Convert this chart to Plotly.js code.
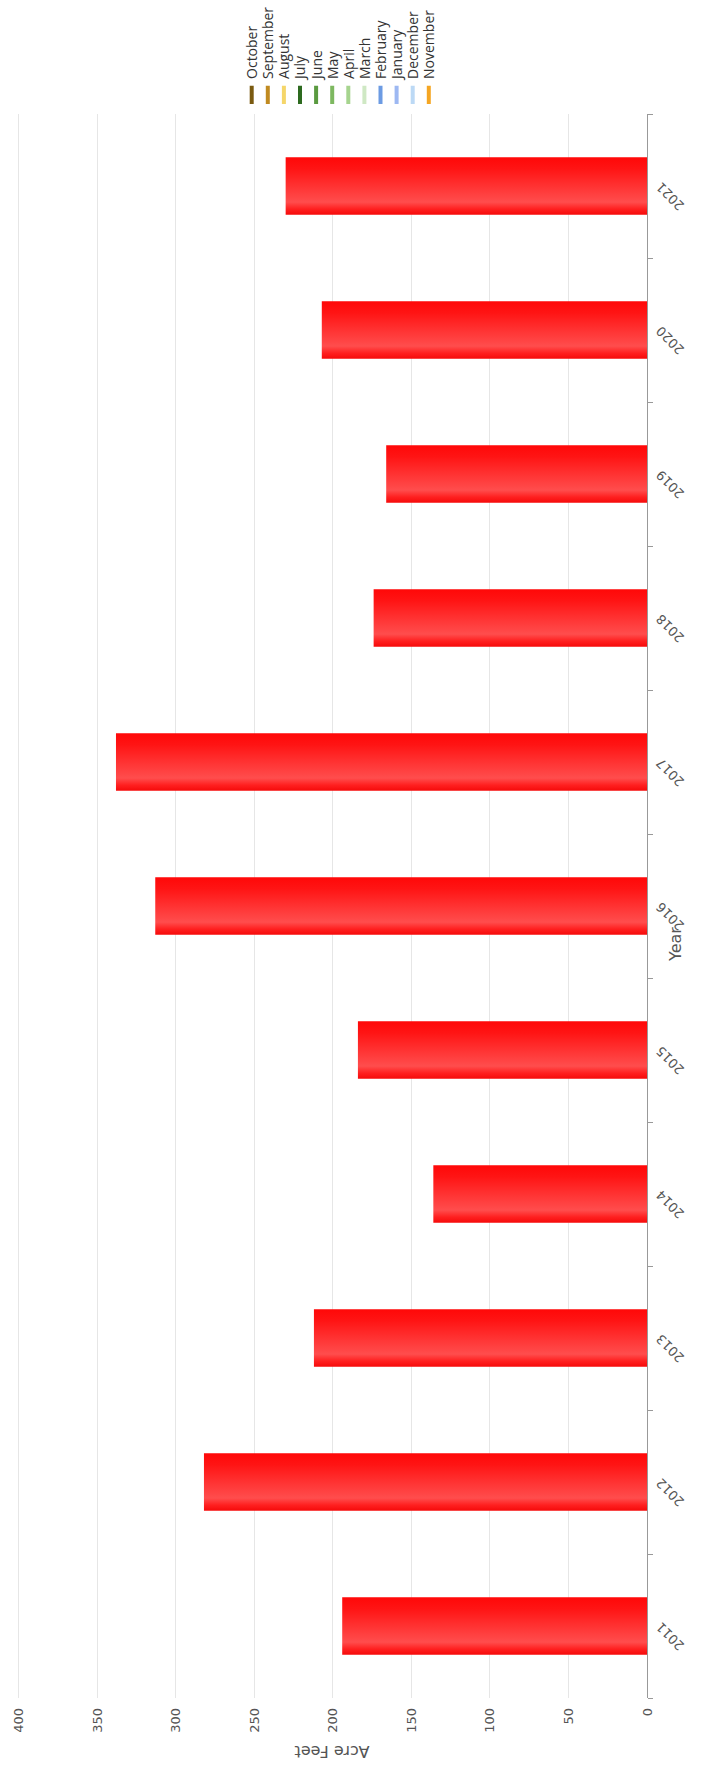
<!DOCTYPE html>
<html>
<head>
<meta charset="utf-8">
<script src="https://cdn.plot.ly/plotly-3.0.1.min.js"></script>
<style>
html, body { margin: 0; padding: 0; width: 718px; height: 1773px; overflow: hidden; background: #fff; }
#wrap { position: absolute; left: 0; top: 0; width: 1773px; height: 718px;
        transform-origin: 0 0; transform: translate(0px, 1773px) rotate(-90deg); }
#chart { width: 1773px; height: 718px; }
</style>
</head>
<body>
<div id="wrap"><div id="chart"></div></div>
<script>
// ---- data ----
const years = ['2011', '2012', '2013', '2014', '2015', '2016', '2017', '2018', '2019', '2020', '2021'];
const acreFeet = [194, 282, 212, 136, 184, 313, 338, 174, 166, 207, 230];
const months = ['October', 'September', 'August', 'July', 'June', 'May', 'April', 'March',
                'February', 'January', 'December', 'November'];
const monthColors = ['#7a5a10', '#c08a20', '#f5d66a', '#2d6a1f', '#5a9a40', '#7db860', '#a6d48e',
                     '#cfe8c4', '#6c9be3', '#9db8f2', '#bcd9f5', '#f5a623'];
const monthValues = [null]; // the monthly series carry no plotted values in the reference
const valueTicks = [0, 50, 100, 150, 200, 250, 300, 350, 400];

// ---- traces ----
const traces = [{
  type: 'bar',
  x: years,
  y: acreFeet,
  name: 'Acre Feet',
  showlegend: false,
  marker: { color: '#ff2a2a', line: { width: 0 } }
}];
months.forEach(function (m, i) {
  traces.push({
    type: 'scatter',
    mode: 'markers',
    x: [years[0]],
    y: monthValues,
    name: m,
    showlegend: true,
    marker: { symbol: 'line-ew', size: 13, color: monthColors[i], line: { color: monthColors[i], width: 4 } }
  });
});

const layout = {
  width: 1773,
  height: 718,
  margin: { l: 75, r: 114, t: 17, b: 71, autoexpand: false },
  paper_bgcolor: '#ffffff',
  plot_bgcolor: '#ffffff',
  font: { family: 'DejaVu Sans, sans-serif', size: 13, color: '#555' },
  bargap: 0.6,
  showlegend: true,
  hovermode: false,
  xaxis: {
    type: 'category',
    categoryorder: 'array',
    categoryarray: years,
    range: [-0.5, years.length - 0.5],
    tickangle: -45,
    ticks: 'outside',
    tickson: 'boundaries',
    ticklen: 5,
    tickcolor: '#999',
    showline: true,
    linecolor: '#999',
    linewidth: 1,
    showgrid: false,
    zeroline: false,
    automargin: false,
    tickfont: { size: 13, color: '#555' }
  },
  yaxis: {
    range: [0, 401],
    tickvals: valueTicks,
    ticktext: valueTicks.map(String),
    gridcolor: '#e6e6e6',
    gridwidth: 1,
    showline: false,
    zeroline: false,
    ticks: '',
    ticklabelstandoff: 9,
    automargin: false,
    tickfont: { size: 13, color: '#555' },
    title: { text: 'Acre Feet', font: { size: 16, color: '#555' }, standoff: 8 }
  },
  legend: {
    xref: 'container', yref: 'container',
    x: 0.9329, y: 0.526, xanchor: 'left', yanchor: 'middle',
    bgcolor: 'rgba(0,0,0,0)',
    font: { family: 'Open Sans, sans-serif', size: 14, color: '#333' },
    traceorder: 'normal'
  },
  annotations: [{
    text: 'Year',
    xref: 'paper', yref: 'paper',
    x: 0.476, y: 0,
    xanchor: 'center', yanchor: 'middle',
    yshift: -28,
    showarrow: false,
    font: { size: 16, color: '#555' }
  }]
};

function getT(el) {
  const tr = el.getAttribute && el.getAttribute('transform');
  if (!tr) return [0, 0];
  const m = /translate\(\s*([-\d.e]+)[\s,]+([-\d.e]+)\s*\)/.exec(tr);
  return m ? [parseFloat(m[1]), parseFloat(m[2])] : [0, 0];
}
function absY(el) {
  let y = 0;
  while (el && el.tagName && el.tagName.toLowerCase() !== 'svg') { y += getT(el)[1]; el = el.parentNode; }
  return y;
}

const gd = document.getElementById('chart');
Plotly.newPlot(gd, traces, layout, { staticPlot: true, displayModeBar: false }).then(function () {
  const svg = gd.querySelector('svg.main-svg');
  if (!svg) return;
  // bar gradient
  let defs = svg.querySelector('defs');
  const ns = 'http://www.w3.org/2000/svg';
  if (!defs) { defs = document.createElementNS(ns, 'defs'); svg.insertBefore(defs, svg.firstChild); }
  const grad = document.createElementNS(ns, 'linearGradient');
  grad.setAttribute('id', 'barGrad');
  grad.setAttribute('x1', '0'); grad.setAttribute('y1', '0');
  grad.setAttribute('x2', '1'); grad.setAttribute('y2', '0');
  const stops = [[0, '#f50a0a'], [0.1, '#ff2020'], [0.22, '#ff4d4d'], [0.5, '#ff3232'], [0.8, '#ff1414'], [1, '#ff0808']];
  stops.forEach(function (s) {
    const st = document.createElementNS(ns, 'stop');
    st.setAttribute('offset', s[0]);
    st.setAttribute('stop-color', s[1]);
    grad.appendChild(st);
  });
  defs.appendChild(grad);
  gd.querySelectorAll('.barlayer .point path').forEach(function (p) {
    p.style.fill = 'url(#barGrad)';
  });

  // tighter legend spacing, as in the reference
  const items = gd.querySelectorAll('.legend .traces');
  const first = 251.7, step = 16.1;
  items.forEach(function (it, i) {
    const t = getT(it);
    const offset = absY(it) - t[1];
    const newY = first + i * step - offset;
    it.setAttribute('transform', 'translate(' + t[0] + ',' + newY + ')');
  });
  gd.querySelectorAll('.legend path.scatterpts').forEach(function (p) {
    p.setAttribute('transform', 'translate(24,0)');
  });
});
</script>
</body>
</html>
